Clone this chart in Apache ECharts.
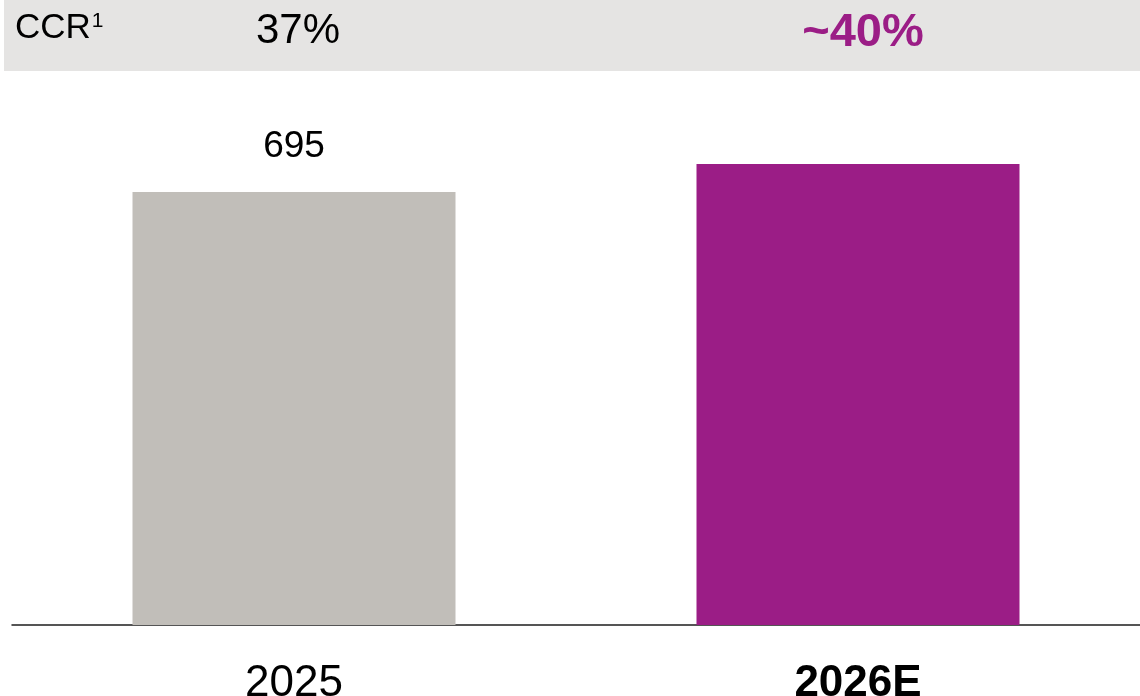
<!DOCTYPE html>
<html>
<head>
<meta charset="utf-8">
<script src="https://cdn.jsdelivr.net/npm/echarts@6/dist/echarts.min.js"></script>
<style>
  html, body { margin: 0; padding: 0; background: #ffffff; }
  #chart { width: 1140px; height: 696px; }
</style>
</head>
<body>
<div id="chart"></div>
<script>
// Years on the category axis
const years = ['2025', '2026E'];
// Bar values
const values = [695, 740];
// Value labels shown above bars (only the reported year is labelled)
const valueLabels = ['695', ''];
// Cash conversion rate per year, shown in the header band
const ccrLabels = ['37%', '~40%'];
const ccrTitle = 'CCR';
const ccrNote = '1';

const GREY = '#c1beb9';
const PURPLE = '#9b1d86';
const FONT = '"Liberation Sans", Arial, sans-serif';

const chart = echarts.init(document.getElementById('chart'), null, { renderer: 'canvas' });

chart.setOption({
  animation: false,
  backgroundColor: '#ffffff',
  grid: { left: 12, right: 0, top: 2, bottom: 71, containLabel: false, outerBoundsMode: 'none' },
  graphic: [
    {
      type: 'rect',
      z: -10,
      shape: { x: 4, y: 0, width: 1136, height: 71 },
      style: { fill: '#e5e4e3' }
    },
    {
      type: 'text',
      left: 15,
      top: 11,
      style: {
        text: '{a|' + ccrTitle + '}{s|' + ccrNote + '}',
        rich: {
          a: { fontFamily: FONT, fontSize: 35, fill: '#000000', verticalAlign: 'bottom' },
          s: { fontFamily: FONT, fontSize: 21, fill: '#000000', verticalAlign: 'top', padding: [0, 0, 14, 1] }
        }
      }
    }
  ],
  xAxis: [
    {
      type: 'category',
      data: years,
      position: 'bottom',
      axisLine: { show: true, lineStyle: { color: '#1e1e1e', width: 1.5 } },
      axisTick: { show: false },
      axisLabel: {
        margin: 37,
        fontFamily: FONT,
        fontSize: 44,
        color: '#000000',
        formatter: function (v, i) { return i === 1 ? '{b|' + v + '}' : '{n|' + v + '}'; },
        rich: {
          n: { fontFamily: FONT, fontSize: 44, color: '#000000' },
          b: { fontFamily: FONT, fontSize: 44, fontWeight: 'bold', color: '#000000' }
        }
      }
    },
    {
      type: 'category',
      data: ccrLabels,
      position: 'top',
      axisLine: { show: false },
      axisTick: { show: false },
      axisLabel: {
        inside: true,
        margin: 8,
        formatter: function (v, i) { return i === 1 ? '{b|' + v + '}' : '{n|' + v + '}'; },
        rich: {
          n: { fontFamily: FONT, fontSize: 42, color: '#000000', padding: [0, 0, 0, 8] },
          b: { fontFamily: FONT, fontSize: 47, fontWeight: 'bold', color: PURPLE, padding: [0, 0, 0, 10] }
        }
      }
    }
  ],
  yAxis: {
    type: 'value',
    min: 0,
    max: 1000,
    show: false,
    splitLine: { show: false }
  },
  series: [
    {
      type: 'bar',
      xAxisIndex: 0,
      barWidth: 323,
      data: values.map(function (v, i) {
        return {
          value: v,
          itemStyle: { color: i === 0 ? GREY : PURPLE }
        };
      }),
      label: {
        show: true,
        position: 'top',
        distance: 27,
        fontFamily: FONT,
        fontSize: 37,
        color: '#000000',
        formatter: function (p) { return valueLabels[p.dataIndex]; }
      }
    }
  ]
});
</script>
</body>
</html>
